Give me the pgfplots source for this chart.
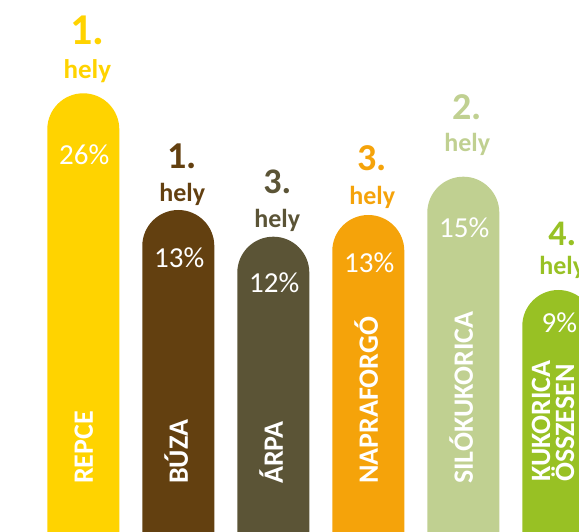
\documentclass[border=0pt]{standalone}
\usepackage{fontspec}
\setmainfont{Carlito}
\usepackage{pgfplots}
\pgfplotsset{compat=1.18}
\definecolor{cA}{HTML}{FFD300}
\definecolor{cB}{HTML}{634010}
\definecolor{cC}{HTML}{5B5436}
\definecolor{cD}{HTML}{F5A30A}
\definecolor{cE}{HTML}{C0D091}
\definecolor{cF}{HTML}{98C124}
\pgfplotsset{
  barst/.style={ybar, bar width=72, bar shift=0pt, draw=none, fill=#1, rounded corners=36pt},
  rank/.style n args={2}{only marks, mark=none, point meta=explicit symbolic, nodes near coords,
     nodes near coords style={anchor=base, inner sep=0pt, xshift=4pt, text=#1, font=\bfseries\fontsize{#2}{#2}\selectfont}},
}
\begin{document}
\begin{tikzpicture}
\begin{axis}[
  scale only axis, width=579pt, height=571pt,
  xmin=0, xmax=579, ymin=0, ymax=571,
  hide axis, clip=true,
]
% bars (heights from a baseline 40 below the picture's bottom edge)
\addplot[barst=cA] coordinates {(83.3,477.7)};
\addplot[barst=cB] coordinates {(178.3,361)};
\addplot[barst=cC] coordinates {(273.3,334.3)};
\addplot[barst=cD] coordinates {(368.3,356)};
\addplot[barst=cE] coordinates {(463.3,394.3)};
\addplot[barst=cF] coordinates {(558.3,281)};
% percentages
\addplot[only marks, mark=none, point meta=explicit symbolic, nodes near coords,
  nodes near coords style={anchor=center, inner sep=0pt, xshift=1pt, text=white, font=\fontsize{29}{29}\selectfont}]
  coordinates {(83.3,416) [26\%] (178.3,313) [13\%] (273.3,288) [12\%] (368.3,308) [13\%] (463.3,343) [15\%] (558.3,248) [9\%]};
% rank numbers
\addplot[rank={cA}{44}] coordinates {(83.3,526) [1.]};
\addplot[rank={cB}{38}] coordinates {(178.3,402.7) [1.]};
\addplot[rank={cC}{36}] coordinates {(273.3,377.7) [3.]};
\addplot[rank={cD}{38}] coordinates {(368.3,400.3) [3.]};
\addplot[rank={cE}{38}] coordinates {(463.3,451.7) [2.]};
\addplot[rank={cF}{36}] coordinates {(558.3,325.3) [4.]};
% hely
\addplot[rank={cA}{27}] coordinates {(83.3,492) [hely]};
\addplot[rank={cB}{26}] coordinates {(178.3,369) [hely]};
\addplot[rank={cC}{26}] coordinates {(273.3,343.7) [hely]};
\addplot[rank={cD}{26}] coordinates {(368.3,366) [hely]};
\addplot[rank={cE}{26}] coordinates {(463.3,419.3) [hely]};
\addplot[rank={cF}{26}] coordinates {(558.3,296) [hely]};
% category labels
\addplot[only marks, mark=none, point meta=explicit symbolic, nodes near coords,
  nodes near coords style={anchor=west, rotate=90, inner sep=0pt, text height=19pt, text depth=0pt, text=white, font=\bfseries\fontsize{28}{28}\selectfont}]
  coordinates {(83.3,87) [REPCE] (178.3,87) [BÚZA] (273.3,87) [ÁRPA] (368.3,87) [NAPRAFORGÓ] (463.3,87) [SILÓKUKORICA]};
\addplot[only marks, mark=none, nodes near coords={KUKORICA\\ÖSSZESEN},
  nodes near coords style={anchor=west, rotate=90, inner sep=0pt, align=left, text=white, font=\bfseries\fontsize{28}{24}\selectfont}]
  coordinates {(553,89)};
\end{axis}
\pgfresetboundingbox
\useasboundingbox ([yshift=40pt]current axis.south west) rectangle (current axis.north east);
\end{tikzpicture}
\end{document}
